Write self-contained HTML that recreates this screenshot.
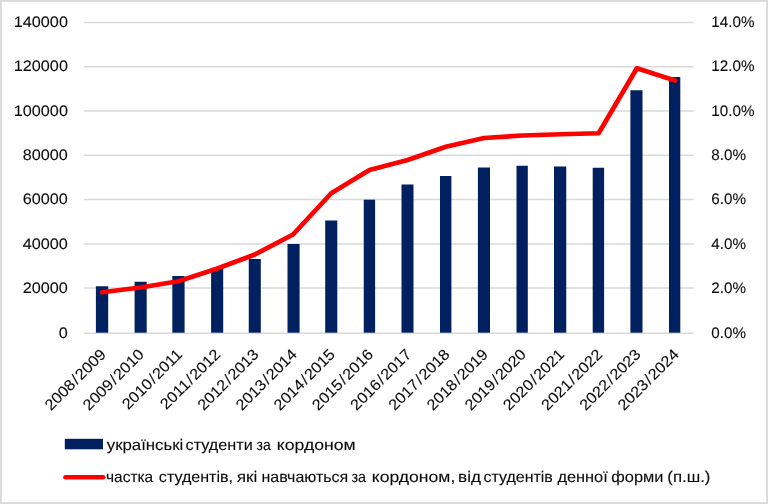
<!DOCTYPE html>
<html lang="uk">
<head>
<meta charset="utf-8">
<title>Українські студенти за кордоном</title>
<style>
html,body{margin:0;padding:0;background:#fff;}
body{width:768px;height:504px;overflow:hidden;}
svg{display:block;}
text{font-family:"Liberation Sans",sans-serif;font-size:15.3px;fill:#0a0a0a;stroke:#0a0a0a;stroke-width:0.1px;text-rendering:geometricPrecision;}
.lg text{font-size:15.4px;}
</style>
</head>
<body>
<svg width="768" height="504" viewBox="0 0 768 504">
<rect x="0" y="0" width="768" height="504" fill="#ffffff"/>
<rect x="0.9" y="0.9" width="766.2" height="502.2" fill="none" stroke="#d9d9d9" stroke-width="1.8"/>

<g stroke="#d9d9d9" stroke-width="1.5">
<line x1="84" y1="22.60" x2="693.8" y2="22.60"/>
<line x1="84" y1="66.70" x2="693.8" y2="66.70"/>
<line x1="84" y1="110.95" x2="693.8" y2="110.95"/>
<line x1="84" y1="155.20" x2="693.8" y2="155.20"/>
<line x1="84" y1="199.50" x2="693.8" y2="199.50"/>
<line x1="84" y1="243.90" x2="693.8" y2="243.90"/>
<line x1="84" y1="288.10" x2="693.8" y2="288.10"/>
<line x1="84" y1="333.30" x2="693.8" y2="333.30"/>
</g>
<g fill="#002060">
<rect x="95.90" y="286.25" width="12.30" height="46.45"/>
<rect x="134.60" y="281.75" width="12.10" height="50.95"/>
<rect x="172.30" y="276.00" width="12.30" height="56.70"/>
<rect x="211.10" y="268.00" width="12.10" height="64.70"/>
<rect x="248.75" y="259.00" width="12.05" height="73.70"/>
<rect x="287.50" y="244.00" width="12.10" height="88.70"/>
<rect x="325.20" y="220.50" width="12.10" height="112.20"/>
<rect x="363.75" y="199.70" width="11.35" height="133.00"/>
<rect x="401.50" y="184.50" width="12.00" height="148.20"/>
<rect x="440.00" y="176.00" width="11.40" height="156.70"/>
<rect x="477.90" y="167.50" width="12.10" height="165.20"/>
<rect x="516.50" y="165.75" width="11.30" height="166.95"/>
<rect x="554.00" y="166.50" width="12.25" height="166.20"/>
<rect x="592.70" y="167.75" width="11.40" height="164.95"/>
<rect x="630.40" y="90.25" width="12.10" height="242.45"/>
<rect x="669.00" y="77.00" width="11.30" height="255.70"/>
</g>
<polyline points="102.05,292.25 140.25,287.50 178.45,281.25 216.65,268.75 254.85,254.50 293.05,234.50 331.25,193.25 369.45,170.00 407.65,160.00 445.85,146.75 484.05,138.00 522.25,135.50 560.45,134.25 598.65,133.25 636.85,68.30 675.05,80.50" fill="none" stroke="#ff0000" stroke-width="4.7" stroke-linecap="round" stroke-linejoin="round"/>
<g text-anchor="end">
<text transform="translate(67.90 27.30) scale(1.060 1)">140000</text>
<text transform="translate(67.90 71.40) scale(1.060 1)">120000</text>
<text transform="translate(67.90 115.65) scale(1.060 1)">100000</text>
<text transform="translate(67.90 159.90) scale(1.060 1)">80000</text>
<text transform="translate(67.90 204.20) scale(1.060 1)">60000</text>
<text transform="translate(67.90 248.60) scale(1.060 1)">40000</text>
<text transform="translate(67.90 292.80) scale(1.060 1)">20000</text>
<text transform="translate(67.90 338.00) scale(1.060 1)">0</text>
</g>
<g>
<text transform="translate(711.30 27.30) scale(0.995 1)">14.0%</text>
<text transform="translate(711.30 71.40) scale(0.995 1)">12.0%</text>
<text transform="translate(711.30 115.65) scale(0.995 1)">10.0%</text>
<text transform="translate(711.30 159.90) scale(0.995 1)">8.0%</text>
<text transform="translate(711.30 204.20) scale(0.995 1)">6.0%</text>
<text transform="translate(711.30 248.60) scale(0.995 1)">4.0%</text>
<text transform="translate(711.30 292.80) scale(0.995 1)">2.0%</text>
<text transform="translate(711.30 338.00) scale(0.995 1)">0.0%</text>
</g>
<g text-anchor="end">
<text transform="translate(106.75 355.30) rotate(-45) scale(1.060 1)">2008<tspan dx="1.1">/</tspan><tspan dx="1.1">2009</tspan></text>
<text transform="translate(144.95 355.30) rotate(-45) scale(1.060 1)">2009<tspan dx="1.1">/</tspan><tspan dx="1.1">2010</tspan></text>
<text transform="translate(183.15 355.30) rotate(-45) scale(1.060 1)">2010<tspan dx="1.1">/</tspan><tspan dx="1.1">2011</tspan></text>
<text transform="translate(221.35 355.30) rotate(-45) scale(1.060 1)">2011<tspan dx="1.1">/</tspan><tspan dx="1.1">2012</tspan></text>
<text transform="translate(259.55 355.30) rotate(-45) scale(1.060 1)">2012<tspan dx="1.1">/</tspan><tspan dx="1.1">2013</tspan></text>
<text transform="translate(297.75 355.30) rotate(-45) scale(1.060 1)">2013<tspan dx="1.1">/</tspan><tspan dx="1.1">2014</tspan></text>
<text transform="translate(335.95 355.30) rotate(-45) scale(1.060 1)">2014<tspan dx="1.1">/</tspan><tspan dx="1.1">2015</tspan></text>
<text transform="translate(374.15 355.30) rotate(-45) scale(1.060 1)">2015<tspan dx="1.1">/</tspan><tspan dx="1.1">2016</tspan></text>
<text transform="translate(412.35 355.30) rotate(-45) scale(1.060 1)">2016<tspan dx="1.1">/</tspan><tspan dx="1.1">2017</tspan></text>
<text transform="translate(450.55 355.30) rotate(-45) scale(1.060 1)">2017<tspan dx="1.1">/</tspan><tspan dx="1.1">2018</tspan></text>
<text transform="translate(488.75 355.30) rotate(-45) scale(1.060 1)">2018<tspan dx="1.1">/</tspan><tspan dx="1.1">2019</tspan></text>
<text transform="translate(526.95 355.30) rotate(-45) scale(1.060 1)">2019<tspan dx="1.1">/</tspan><tspan dx="1.1">2020</tspan></text>
<text transform="translate(565.15 355.30) rotate(-45) scale(1.060 1)">2020<tspan dx="1.1">/</tspan><tspan dx="1.1">2021</tspan></text>
<text transform="translate(603.35 355.30) rotate(-45) scale(1.060 1)">2021<tspan dx="1.1">/</tspan><tspan dx="1.1">2022</tspan></text>
<text transform="translate(641.55 355.30) rotate(-45) scale(1.060 1)">2022<tspan dx="1.1">/</tspan><tspan dx="1.1">2023</tspan></text>
<text transform="translate(679.75 355.30) rotate(-45) scale(1.060 1)">2023<tspan dx="1.1">/</tspan><tspan dx="1.1">2024</tspan></text>
</g>
<rect x="64.8" y="438.8" width="38.2" height="10.5" fill="#002060"/>
<line x1="65.5" y1="477.3" x2="103.1" y2="477.3" stroke="#ff0000" stroke-width="4.6" stroke-linecap="round"/>
<g class="lg">
<text transform="translate(106.78 449.50) scale(1.0905 1)">українські</text>
<text transform="translate(185.54 449.50) scale(1.0535 1)">студенти</text>
<text transform="translate(256.46 449.50) scale(0.9114 1)">за</text>
<text transform="translate(276.77 449.50) scale(1.1456 1)">кордоном</text>
</g>
<g class="lg">
<text transform="translate(106.00 481.70) scale(1.0053 1)">частка</text>
<text transform="translate(158.87 481.70) scale(1.0437 1)">студентів,</text>
<text transform="translate(236.65 481.70) scale(1.1178 1)">які</text>
<text transform="translate(261.53 481.70) scale(1.0395 1)">навчаються</text>
<text transform="translate(351.53 481.70) scale(0.9281 1)">за</text>
<text transform="translate(371.78 481.70) scale(1.1423 1)">кордоном,</text>
<text transform="translate(458.11 481.70) scale(1.1117 1)">від</text>
<text transform="translate(483.53 481.70) scale(1.0371 1)">студентів</text>
<text transform="translate(557.40 481.70) scale(1.0616 1)">денної</text>
<text transform="translate(611.31 481.70) scale(1.0653 1)">форми</text>
<text transform="translate(667.33 481.70) scale(1.0927 1)">(п.ш.)</text>
</g>
</svg>
</body>
</html>
